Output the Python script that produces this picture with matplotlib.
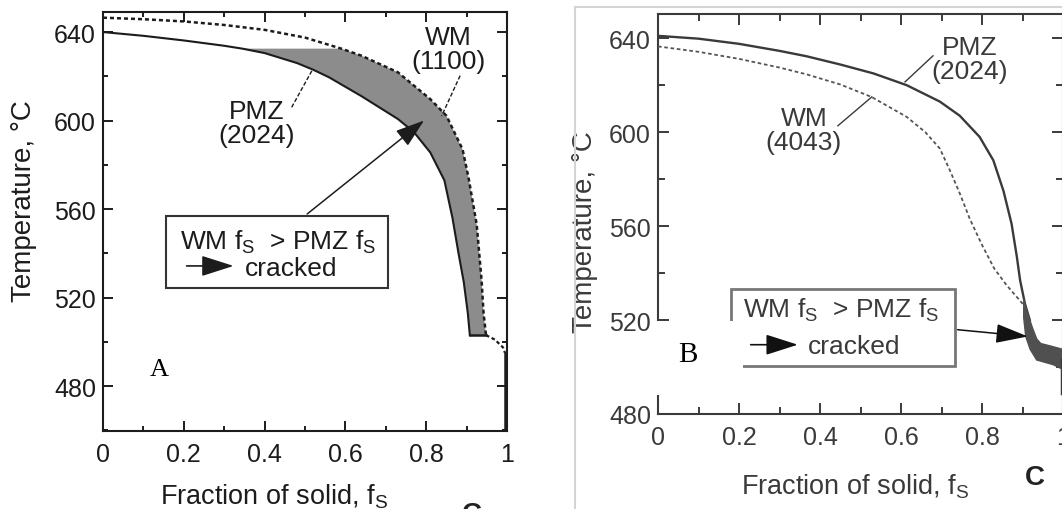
import numpy as np
import matplotlib.pyplot as plt
from matplotlib.patches import Rectangle, Polygon
from matplotlib.lines import Line2D
from matplotlib.ticker import MultipleLocator, FixedLocator, FixedFormatter

plt.rcParams['font.family'] = ['Liberation Sans', 'DejaVu Sans']
plt.rcParams['mathtext.fontset'] = 'custom'
plt.rcParams['mathtext.rm'] = 'Liberation Sans'
plt.rcParams['mathtext.it'] = 'Liberation Sans:italic'

# ---- panel A : PMZ (2024) vs WM (1100) ----
a_pmz_fs = [0, 0.1, 0.2, 0.3, 0.345, 0.4, 0.48, 0.52, 0.56, 0.64, 0.73, 0.77, 0.81,
            0.845, 0.865, 0.88, 0.893, 0.903, 0.908]
a_pmz_T = [640, 638.3, 636.2, 633.8, 632.5, 630.5, 626, 623, 619.5, 611, 600.7, 594.7,
           585.6, 573, 556, 540, 527, 513, 503]
a_wm_fs = [0, 0.1, 0.2, 0.3, 0.4, 0.5, 0.59, 0.64, 0.73, 0.81, 0.85, 0.89, 0.905,
           0.925, 0.937, 0.942, 0.948]
a_wm_T = [646.5, 645.8, 644.8, 643.2, 641, 637.5, 632.5, 629.3, 621.8, 609.7, 602.2,
          587, 574, 553, 528, 513, 503]
a_tail_fs = [0.948, 0.97, 0.99, 0.995, 0.995]
a_tail_T = [503, 501, 497.5, 495, 460]
a_band_top = 632.5

# ---- panel B : PMZ (2024) vs WM (4043) ----
b_pmz_fs = [0, 0.1, 0.2, 0.3, 0.367, 0.45, 0.532, 0.614, 0.696, 0.745, 0.794, 0.828,
            0.853, 0.873, 0.886, 0.894, 0.906, 0.918]
b_pmz_T = [641, 639.8, 637.6, 634.6, 632.3, 628.8, 625, 620, 613, 607, 598, 588,
           575, 561, 547, 537, 527, 520]
b_wm_fs = [0, 0.1, 0.2, 0.3, 0.367, 0.45, 0.527, 0.614, 0.66, 0.696, 0.72, 0.745,
           0.77, 0.8, 0.83, 0.86, 0.885, 0.905]
b_wm_T = [636.5, 634.2, 631.2, 627.5, 624.6, 620.3, 615, 606.5, 600, 593, 584, 574,
          563, 552, 542, 535, 530, 526]
b_blob_fs = [0.903, 0.912, 0.925, 0.935, 0.945, 0.968, 1.0,
             1.0, 0.976, 0.935, 0.919, 0.908, 0.903]
b_blob_T = [529, 523, 516.5, 512, 510, 509, 507.5,
            499, 501, 503, 507.5, 513, 521]
b_tail_fs = [0.997, 0.997]
b_tail_T = [503, 489]

x_ticks = [0, 0.2, 0.4, 0.6, 0.8, 1.0]
x_ticklabels = ['0', '0.2', '0.4', '0.6', '0.8', '1']
y_ticks = [480, 520, 560, 600, 640]
y_ticklabels = ['480', '520', '560', '600', '640']

W, H = 1062, 510
fig = plt.figure(figsize=(W / 100, H / 100), dpi=100)


def fig_box(left, top, right, bottom):
    return [left / W, 1 - bottom / H, (right - left) / W, (bottom - top) / H]


def style_axes(ax, ylim, col, major, minor, size):
    ax.set_xlim(0, 1)
    ax.set_ylim(*ylim)
    ax.xaxis.set_major_locator(FixedLocator(x_ticks))
    ax.xaxis.set_major_formatter(FixedFormatter(x_ticklabels))
    ax.xaxis.set_minor_locator(MultipleLocator(0.1))
    ax.yaxis.set_major_locator(FixedLocator(y_ticks))
    ax.yaxis.set_major_formatter(FixedFormatter(y_ticklabels))
    ax.yaxis.set_minor_locator(MultipleLocator(20))
    ax.tick_params(which='both', direction='in', top=True, right=True,
                   color=col, width=1.4, labelcolor=col, labelsize=size)
    ax.tick_params(which='major', length=major)
    ax.tick_params(which='minor', length=minor)
    ax.tick_params(axis='x', pad=8)
    ax.tick_params(axis='y', pad=5)
    for s in ax.spines.values():
        s.set_color(col)
        s.set_linewidth(1.5)


# ================= panel A =================
axA = fig.add_axes(fig_box(103, 12.7, 507, 432))
colA = '#1c1c1c'
style_axes(axA, (459.7, 649.2), colA, 7, 3.5, 18)

pmz = np.array([a_pmz_fs, a_pmz_T])
wm = np.array([a_wm_fs, a_wm_T])
lo = pmz[:, pmz[1] <= a_band_top]
hi = wm[:, wm[1] <= a_band_top]
band = np.concatenate([lo.T, hi.T[::-1]])
axA.add_patch(Polygon(band, closed=True, facecolor='#8c8c8c', edgecolor='none', zorder=1))

axA.plot(a_pmz_fs, a_pmz_T, color=colA, lw=1.5, zorder=3)
axA.plot([a_pmz_fs[-1], a_wm_fs[-1]], [a_pmz_T[-1], a_wm_T[-1]], color=colA, lw=1.8, zorder=3)
axA.plot(a_wm_fs, a_wm_T, color=colA, lw=1.8, ls=(0, (1.6, 1.2)), zorder=3)
axA.plot(a_tail_fs[:-1], a_tail_T[:-1], color=colA, lw=1.6, ls=(0, (1.6, 1.2)), zorder=3)
axA.plot(a_tail_fs[-2:], a_tail_T[-2:], color=colA, lw=1.8, zorder=3)

axA.text(0.381, 599, 'PMZ\n(2024)', ha='center', va='center', fontsize=19,
         color=colA, linespacing=1.0)
axA.plot([0.467, 0.517], [606, 622.5], color=colA, lw=1, ls=(0, (3, 1.5)))
axA.text(0.854, 632.3, 'WM\n(1100)', ha='center', va='center', fontsize=19,
         color=colA, linespacing=1.0)
axA.plot([0.884, 0.838], [620.3, 602], color=colA, lw=1, ls=(0, (3, 1.5)))

axA.add_patch(Rectangle((0.155, 524.5), 0.55, 32.5, facecolor='white',
                        edgecolor='#333333', lw=1.5, zorder=4))
axA.text(0.19, 545.5, r'WM f$_\mathrm{S}$  > PMZ f$_\mathrm{S}$', ha='left', va='center',
         fontsize=19, color=colA, zorder=5)
axA.text(0.35, 533.5, 'cracked', ha='left', va='center', fontsize=19, color=colA, zorder=5)
axA.annotate('', xy=(0.33, 534.3), xytext=(0.2, 534.3),
             arrowprops=dict(arrowstyle='-|>,head_length=1.0,head_width=0.32',
                             mutation_scale=20, color=colA, lw=1.2), zorder=5)
axA.annotate('', xy=(0.8, 600.8), xytext=(0.5, 557),
             arrowprops=dict(arrowstyle='-|>,head_length=0.9,head_width=0.3',
                             mutation_scale=20, color=colA, lw=1.1), zorder=5)
axA.text(0.138, 487.5, 'A', family=['Liberation Serif'], fontsize=19,
         ha='center', va='center', color='black')

axA.set_xlabel(r'Fraction of solid, f$_\mathrm{S}$', fontsize=19.5, color=colA)
axA.xaxis.set_label_coords(0.423, -0.12)
axA.xaxis.label.set_va('top')
axA.set_ylabel('Temperature, °C', fontsize=20, color=colA)
axA.yaxis.set_label_coords(-0.195, 0.55)
axA.yaxis.label.set_va('center')

# ================= panel B =================
axB = fig.add_axes(fig_box(658, 15, 1063, 415))
colB = '#3a3a3a'
style_axes(axB, (480, 650.3), colB, 8, 5, 18)

axB.plot(b_wm_fs, b_wm_T, color='#555555', lw=1.3, ls=(0, (2, 1.5)), zorder=3)
axB.plot(b_pmz_fs, b_pmz_T, color=colB, lw=1.7, zorder=3)
axB.fill(b_blob_fs, b_blob_T, facecolor='#505050', edgecolor='#505050', lw=1, zorder=3)
axB.plot(b_tail_fs, b_tail_T, color=colB, lw=2.5, zorder=3)

axB.text(0.77, 631, 'PMZ\n(2024)', ha='center', va='center', fontsize=19,
         color=colB, linespacing=1.0)
axB.plot([0.679, 0.61], [632.5, 621.4], color=colB, lw=1)
axB.text(0.36, 601, 'WM\n(4043)', ha='center', va='center', fontsize=19,
         color=colB, linespacing=1.0)
axB.plot([0.444, 0.528], [602.7, 615], color=colB, lw=1)

axB.add_patch(Rectangle((0.181, 500.6), 0.552, 32.6, facecolor='white',
                        edgecolor='#777777', lw=2, zorder=4))
axB.text(0.21, 524.7, r'WM f$_\mathrm{S}$  > PMZ f$_\mathrm{S}$', ha='left', va='center',
         fontsize=19, color=colB, zorder=5)
axB.text(0.371, 509, 'cracked', ha='left', va='center', fontsize=19, color=colB, zorder=5)
axB.annotate('', xy=(0.352, 509.5), xytext=(0.222, 509.5),
             arrowprops=dict(arrowstyle='-|>,head_length=1.0,head_width=0.32',
                             mutation_scale=20, color='#111111', lw=1.2), zorder=5)
axB.annotate('', xy=(0.92, 512.9), xytext=(0.733, 516),
             arrowprops=dict(arrowstyle='-|>,head_length=1.0,head_width=0.3',
                             mutation_scale=20, color='#111111', lw=1.1), zorder=5)

axB.add_patch(Rectangle((-0.007, 487.9), 0.217, 31.5, facecolor='white',
                        edgecolor='none', clip_on=False, zorder=6))
axB.text(0.074, 505.6, 'B', family=['Liberation Serif'], fontsize=21,
         ha='center', va='center', color='black', zorder=7)

axB.set_xlabel(r'Fraction of solid, f$_\mathrm{S}$', fontsize=19.5, color=colB)
axB.xaxis.set_label_coords(0.486, -0.145)
axB.xaxis.label.set_va('top')
axB.set_ylabel('Temperature, °C', fontsize=20, color=colB)
axB.yaxis.set_label_coords(-0.18, 0.457)
axB.yaxis.label.set_va('center')

# frame of the right picture and the stray panel letters
fig.add_artist(Line2D([575 / W, 575 / W], [0, 1 - 8 / H], transform=fig.transFigure,
                      color='#d4d4d4', lw=1.5))
fig.add_artist(Line2D([575 / W, 1], [1 - 8 / H, 1 - 8 / H], transform=fig.transFigure,
                      color='#d4d4d4', lw=1.5))
fig.text(1035 / W, 1 - 478 / H, 'C', fontsize=20, weight='bold', color='#222222',
         ha='center', va='center')
fig.text(472 / W, 1 - 502 / H, 'C', fontsize=20, weight='bold', color='#222222',
         ha='center', va='top')

fig.savefig('out.png', dpi=100)
